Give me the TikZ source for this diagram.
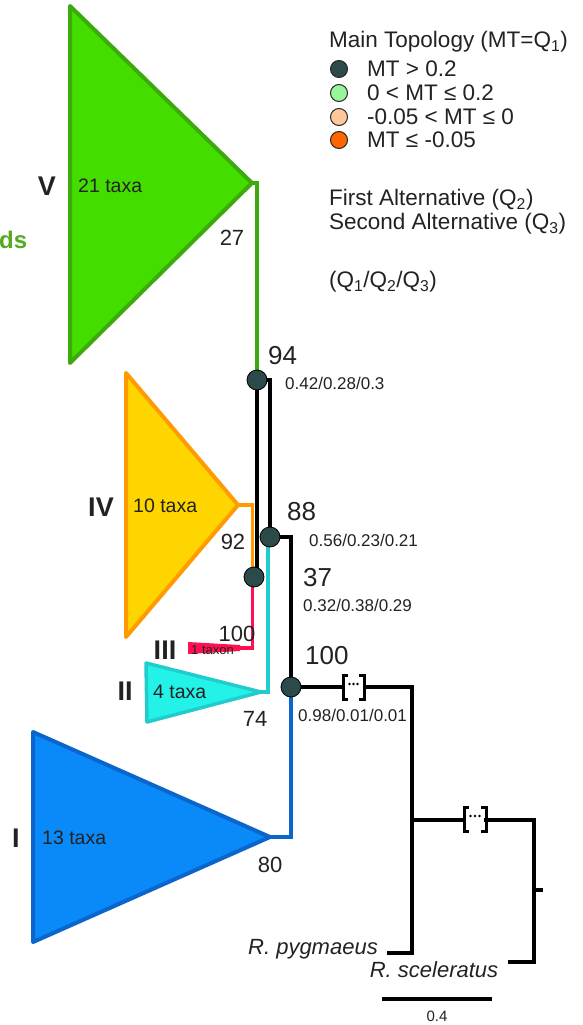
\documentclass[tikz,border=0pt]{standalone}
\usepackage{fontspec}
\setmainfont{Liberation Sans}
\definecolor{gfill}{HTML}{44DD00}
\definecolor{gline}{HTML}{3CAA0C}
\definecolor{ofill}{HTML}{FFD500}
\definecolor{oline}{HTML}{FF9A00}
\definecolor{rline}{HTML}{FF1050}
\definecolor{cfill}{HTML}{22F2E8}
\definecolor{cline}{HTML}{22CCCC}
\definecolor{bfill}{HTML}{0A8AF8}
\definecolor{bline}{HTML}{0A66CC}
\definecolor{dotc}{HTML}{2D4A4A}
\definecolor{lgreen}{HTML}{99F599}
\definecolor{peach}{HTML}{FFC899}
\definecolor{orng}{HTML}{FF6600}
\definecolor{txt}{HTML}{222222}
\definecolor{dsgreen}{HTML}{55AA22}
\begin{document}
\begin{tikzpicture}[x=1pt,y=-1pt,
  blk/.style={line width=4.2pt,black},
  clade/.style={line width=4pt,line join=round},
  stem/.style={line width=3.2pt},
  dotnode/.style={circle,draw=black,line width=0.8pt,fill=dotc,minimum size=20pt,inner sep=0pt},
  legdot/.style={circle,draw=black!85,line width=1pt,minimum size=17pt,inner sep=0pt},
  big/.style={font=\fontsize{26}{28}\selectfont,text=txt,inner sep=0pt},
  qs/.style={font=\fontsize{17}{19}\selectfont,text=txt,inner sep=0pt,anchor=west},
  bs/.style={font=\fontsize{22}{24}\selectfont,text=txt,inner sep=0pt},
  taxa/.style={font=\fontsize{19.5}{21}\selectfont,text=txt,inner sep=0pt,anchor=west},
  roman/.style={font=\fontsize{27}{29}\selectfont\bfseries,text=txt,inner sep=0pt},
  leg/.style={font=\fontsize{22.5}{25}\selectfont,text=txt,anchor=west,inner sep=0pt},
  sp/.style={font=\fontsize{22}{24}\selectfont\itshape,text=txt,inner sep=0pt},
]
\useasboundingbox (0,0) rectangle (583,1025);

% internal node positions
\coordinate (c94) at (257,380);
\coordinate (c88) at (270,537);
\coordinate (c37) at (254,577);
\coordinate (c100) at (291,687);

% collapsed clades
\filldraw[clade,fill=gfill,draw=gline] (70,6) -- (252,183) coordinate (ga) -- (70,363) -- cycle;
\filldraw[clade,fill=ofill,draw=oline] (126,373) -- (238,505) coordinate (oa) -- (126,637) -- cycle;
\filldraw[clade,fill=cfill,draw=cline,line width=3.5pt] (146,663) -- (261,692) coordinate (ca) -- (147,722) -- cycle;
\filldraw[clade,fill=bfill,draw=bline] (33,732) -- (270,837) coordinate (ba) -- (33,942) -- cycle;
\fill[rline] (188,642) -- (240,645) -- (240,651) -- (188,654) -- cycle;
\coordinate (ra) at (200,648);

% branches
\draw[stem,gline] (ga) -| (c94);
\draw[blk] (c94) -- (c94 |- c37);
\draw[blk] ([xshift=4pt]c94) -| (c88);
\draw[blk] (c88) -| (c100);
\draw[stem,oline] (oa) -| ([xshift=-1.5pt]c37);
\draw[stem,rline] ([xshift=-1.5pt]c37) |- (ra);
\draw[stem,cline] ([xshift=-2pt]c88) |- (ca);
\draw[stem,bline] (c100) |- (ba);

% long outgroup branches with breaks
\coordinate (k0) at (412,687);
\coordinate (k1) at (412,820);
\coordinate (k2) at (534,820);
\node[sp,anchor=east] (pyg) at (378,949) {R. pygmaeus};
\node[sp] (scl) at (434,970) {R. sceleratus};
\coordinate (pyge) at (387,953);
\coordinate (scle) at (508,962);
\draw[blk] (c100) -- (343,687);
\draw[blk] (364,687) -- (k0) |- (pyge);
\draw[blk] (k1) -- (466,820);
\draw[blk] (484,820) -- (k2) |- (scle);
\draw[blk] (534,890) -- (543,890);
\foreach \a/\b/\y in {343/364/687, 464/486/819}{
  \draw[line width=3pt,line cap=butt] (\a+5,\y-12) -- (\a,\y-12) -- (\a,\y+12) -- (\a+5,\y+12);
  \draw[line width=3pt,line cap=butt] (\b-5,\y-12) -- (\b,\y-12) -- (\b,\y+12) -- (\b-5,\y+12);
  \foreach \d in {0,1,2}{ \fill ({\a+6.5+\d*(\b-\a-13)/2},\y-3) circle (1.3); }
}

% node markers
\foreach \n in {94,88,37,100}{ \node[dotnode] (n\n) at (c\n) {}; }

% scale bar
\coordinate (s0) at (382,999);
\coordinate (s1) at (492,999);
\draw[blk] (s0) -- (s1);
\node[font=\fontsize{15}{17}\selectfont,text=txt,inner sep=0pt] at (437,1016) {0.4};

% support values
\node[big,anchor=west] at (268,356) {94};
\node[qs] at (285,383) {0.42/0.28/0.3};
\node[big,anchor=west] at (287,512) {88};
\node[qs] at (309,540) {0.56/0.23/0.21};
\node[big,anchor=west] at (303,578) {37};
\node[qs] at (303,605) {0.32/0.38/0.29};
\node[big,anchor=west] at (305,656) {100};
\node[qs] at (298,715) {0.98/0.01/0.01};

\node[bs] at (232,238) {27};
\node[bs] at (233,542) {92};
\node[bs] at (237,634) {100};
\node[bs] at (255,719) {74};
\node[bs] at (270,865) {80};

% clade labels
\node[roman] at (47,186) {V};
\node[taxa] at (78,186) {21 taxa};
\node[roman] at (101,507) {IV};
\node[taxa] at (133,506) {10 taxa};
\node[roman] at (165,650) {III};
\node[font=\fontsize{13}{14}\selectfont,text=txt,inner sep=0pt,anchor=west] at (191,650) {1 taxon};
\node[roman] at (125,691) {II};
\node[taxa] at (153,692) {4 taxa};
\node[roman] at (16,838) {I};
\node[taxa] at (42,838) {13 taxa};
\node[font=\fontsize{24}{26}\selectfont\bfseries,text=dsgreen,inner sep=0pt,anchor=west] at (-1,240) {ds};

% legend
\node[leg] at (329,42) {Main Topology (MT=Q\textsubscript{1})};
\node[legdot,fill=dotc] at (339,69) {};
\node[leg] at (367,69) {MT > 0.2};
\node[legdot,fill=lgreen] at (339,93) {};
\node[leg] at (367,93) {0 < MT ≤ 0.2};
\node[legdot,fill=peach] at (339,117) {};
\node[leg] at (367,117) {-0.05 < MT ≤ 0};
\node[legdot,fill=orng] at (339,140) {};
\node[leg] at (367,140) {MT ≤ -0.05};
\node[leg] at (329,200) {First Alternative (Q\textsubscript{2})};
\node[leg] at (329,224) {Second Alternative (Q\textsubscript{3})};
\node[leg] at (329,282) {(Q\textsubscript{1}/Q\textsubscript{2}/Q\textsubscript{3})};
\end{tikzpicture}
\end{document}
